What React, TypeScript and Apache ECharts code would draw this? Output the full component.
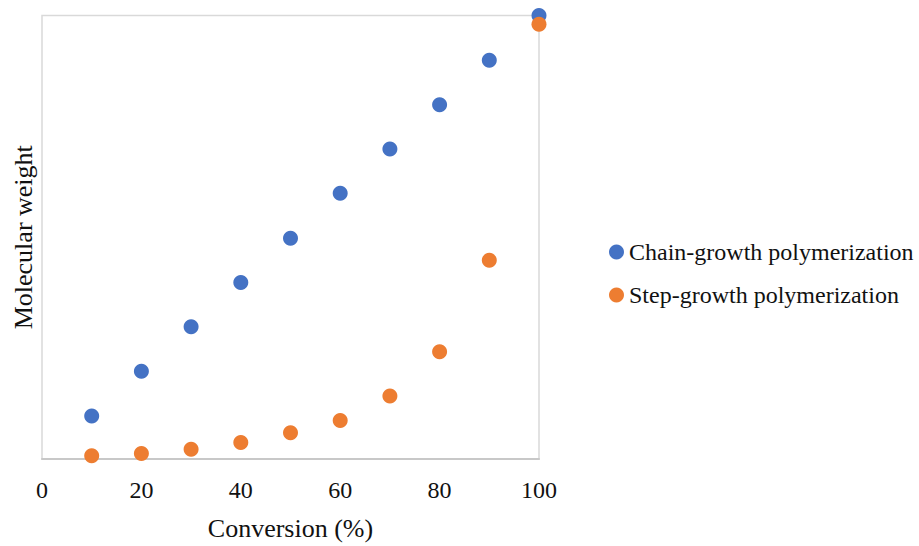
import React, { useEffect, useRef } from "react";
import * as echarts from "echarts";

const conversion = [10, 20, 30, 40, 50, 60, 70, 80, 90, 100];
const chainGrowth = [9.7, 19.8, 29.8, 39.8, 49.8, 59.9, 69.9, 79.9, 89.9, 100];
const stepGrowth = [0.74, 1.25, 2.2, 3.7, 5.9, 8.7, 14.2, 24.2, 44.8, 98];
const seriesNames = ["Chain-growth polymerization", "Step-growth polymerization"];
const FONT = "Liberation Serif";

export default function App() {
  const ref = useRef<HTMLDivElement>(null);
  useEffect(() => {
    if (!ref.current) return;
    const chart = echarts.init(ref.current, null, { renderer: "svg" });
    chart.setOption({
      animation: false,
      backgroundColor: "#ffffff",
      textStyle: { fontFamily: FONT },
      grid: {
        left: 42,
        top: 15.5,
        width: 497,
        height: 447.8,
        show: true,
        borderColor: "#d9d9d9",
        borderWidth: 1.5,
        backgroundColor: "transparent",
      },
      legend: {
        orient: "vertical",
        left: 609,
        top: 240,
        padding: 0,
        itemGap: 19,
        icon: "circle",
        itemWidth: 15,
        itemHeight: 15,
        textStyle: { fontFamily: FONT, fontSize: 24, color: "#111" },
        data: seriesNames,
      },
      xAxis: {
        type: "value",
        min: 0,
        max: 100,
        interval: 20,
        name: "Conversion (%)",
        nameLocation: "middle",
        nameGap: 56,
        nameTextStyle: { fontFamily: FONT, fontSize: 26, color: "#111" },
        axisLine: { show: true, lineStyle: { color: "#c8c8c8", width: 2 } },
        axisTick: { show: false },
        splitLine: { show: false },
        axisLabel: { fontFamily: FONT, fontSize: 24, color: "#111", margin: 19 },
      },
      yAxis: {
        type: "value",
        min: 0,
        max: 100,
        name: "Molecular weight",
        nameLocation: "middle",
        nameGap: 6,
        nameTextStyle: { fontFamily: FONT, fontSize: 26, color: "#111" },
        axisLine: { show: false },
        axisTick: { show: false },
        splitLine: { show: false },
        axisLabel: { show: false },
      },
      series: [
        {
          name: seriesNames[0],
          type: "scatter",
          symbol: "circle",
          symbolSize: 15,
          itemStyle: { color: "#4472C4", opacity: 1 },
          data: conversion.map((c, i) => [c, chainGrowth[i]]),
        },
        {
          name: seriesNames[1],
          type: "scatter",
          symbol: "circle",
          symbolSize: 15,
          itemStyle: { color: "#ED7D31", opacity: 1 },
          data: conversion.map((c, i) => [c, stepGrowth[i]]),
        },
      ],
    });
    return () => chart.dispose();
  }, []);
  return <div ref={ref} style={{ width: 919, height: 546, position: "absolute", left: 0, top: 0 }} />;
}
